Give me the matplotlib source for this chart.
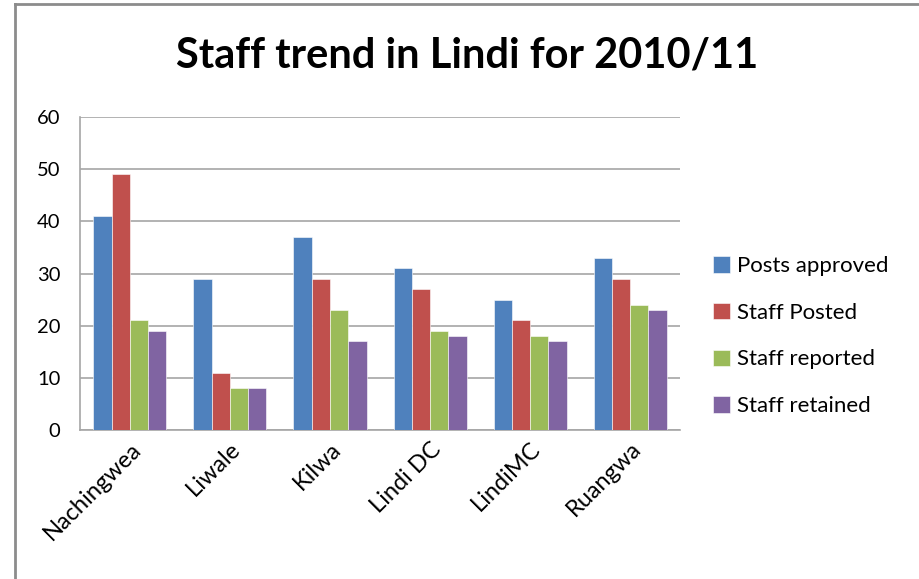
import matplotlib.pyplot as plt
import numpy as np

plt.rcParams['font.family'] = ['Lato', 'DejaVu Sans']

# Data
districts = ['Nachingwea', 'Liwale', 'Kilwa', 'Lindi DC', 'LindiMC', 'Ruangwa']
posts_approved = [41, 29, 37, 31, 25, 33]
staff_posted = [49, 11, 29, 27, 21, 29]
staff_reported = [21, 8, 23, 19, 18, 24]
staff_retained = [19, 8, 17, 18, 17, 23]

series = [
    ('Posts approved', posts_approved, '#4F81BD'),
    ('Staff Posted', staff_posted, '#C0504D'),
    ('Staff reported', staff_reported, '#9BBB59'),
    ('Staff retained', staff_retained, '#8064A2'),
]

fig = plt.figure(figsize=(9.19, 5.79), dpi=100)
ax = fig.add_axes([0.087, 0.2573, 0.653, 0.5406])

x = np.arange(len(districts))
w = 0.1825
for i, (name, vals, col) in enumerate(series):
    ax.bar(x + (i - 1.5) * w, vals, width=w, color=col, label=name,
           edgecolor='white', linewidth=0.4, zorder=3)

ax.set_ylim(0, 60)
ax.set_xlim(-0.5, len(districts) - 0.5)
ax.set_yticks(range(0, 61, 10))
ax.yaxis.grid(True, color='#a6a6a6', linewidth=1.2, zorder=0)
ax.tick_params(axis='y', length=0, labelsize=14.5, pad=14)
ax.tick_params(axis='x', length=0, labelsize=17, pad=6)
ax.set_xticks(x)
ax.set_xticklabels(districts, rotation=45, ha='right', rotation_mode='anchor')
for s in ['top', 'right']:
    ax.spines[s].set_visible(False)
for s in ['left', 'bottom']:
    ax.spines[s].set_color('#a6a6a6')
    ax.spines[s].set_linewidth(1.2)

fig.text(0.508, 0.905, 'Staff trend in Lindi for 2010/11', ha='center', va='center',
         fontsize=30, fontweight='bold')

ax.legend(loc='center left', bbox_to_anchor=(1.022, 0.3), frameon=False, fontsize=16,
          handlelength=0.75, handleheight=0.75, handletextpad=0.3, labelspacing=1.2)

# outer frame of the chart area
fig.add_artist(plt.Line2D([0.0163, 0.0163], [0, 0.993], color='#8c8c8c', linewidth=2))
fig.add_artist(plt.Line2D([0.0163, 1.0], [0.993, 0.993], color='#8c8c8c', linewidth=2))

fig.savefig('out.png', dpi=100)
